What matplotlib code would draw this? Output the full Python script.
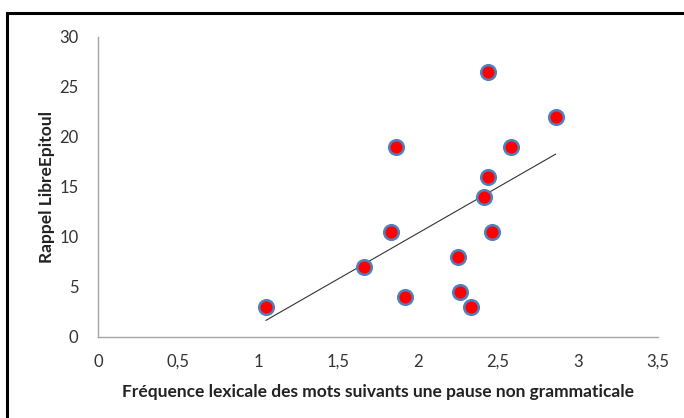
import matplotlib.pyplot as plt
import numpy as np
from matplotlib.patches import Rectangle

plt.rcParams['font.family'] = ['Lato', 'DejaVu Sans']

frequence = [1.05, 1.66, 1.83, 1.86, 1.92, 2.25, 2.26, 2.33, 2.41, 2.44, 2.44, 2.46, 2.58, 2.86]
rappel = [3, 7, 10.5, 19, 4, 8, 4.5, 3, 14, 16, 26.5, 10.5, 19, 22]

x_ticks = [0, 0.5, 1, 1.5, 2, 2.5, 3, 3.5]
x_labels = ['0', '0,5', '1', '1,5', '2', '2,5', '3', '3,5']
y_ticks = [0, 5, 10, 15, 20, 25, 30]

fig = plt.figure(figsize=(6.84, 4.18), dpi=100)
ax = fig.add_axes([0.1433, 0.1938, 0.8187, 0.7177])

# outer frame of the chart (only left/top visible in the crop)
fig.patches.append(Rectangle((7 / 684, -0.1), 1.2, (418 - 13) / 418 + 0.1,
                             transform=fig.transFigure, fill=False,
                             edgecolor='black', linewidth=2.2))

# linear trend line
x = np.array(frequence)
y = np.array(rappel)
a, b = np.polyfit(x, y, 1)
xs = np.array([x.min(), x.max()])
ax.plot(xs, a * xs + b, color='#333333', linewidth=0.8, zorder=2)

ax.plot(frequence, rappel, 'o', markersize=10.5, markerfacecolor='#ff0000',
        markeredgecolor='#4f81bd', markeredgewidth=1.8, linestyle='none', zorder=3)

ax.set_xlim(0, 3.5)
ax.set_ylim(0, 30)
ax.set_xticks(x_ticks)
ax.set_xticklabels(x_labels)
ax.set_yticks(y_ticks)
ax.tick_params(length=0, labelsize=12, colors='#333333')
ax.tick_params(axis='x', pad=12)
ax.tick_params(axis='y', pad=14)

for side in ['top', 'right']:
    ax.spines[side].set_visible(False)
for side in ['left', 'bottom']:
    ax.spines[side].set_color('#a6a6a6')
    ax.spines[side].set_linewidth(1)

ax.set_xlabel('Fréquence lexicale des mots suivants une pause non grammaticale',
              fontsize=12.5, fontweight='bold', color='#222222', labelpad=10)
ax.set_ylabel('Rappel LibreEpitoul', fontsize=12.5, fontweight='bold',
              color='#222222', labelpad=3)

fig.savefig('out.png', dpi=100)
